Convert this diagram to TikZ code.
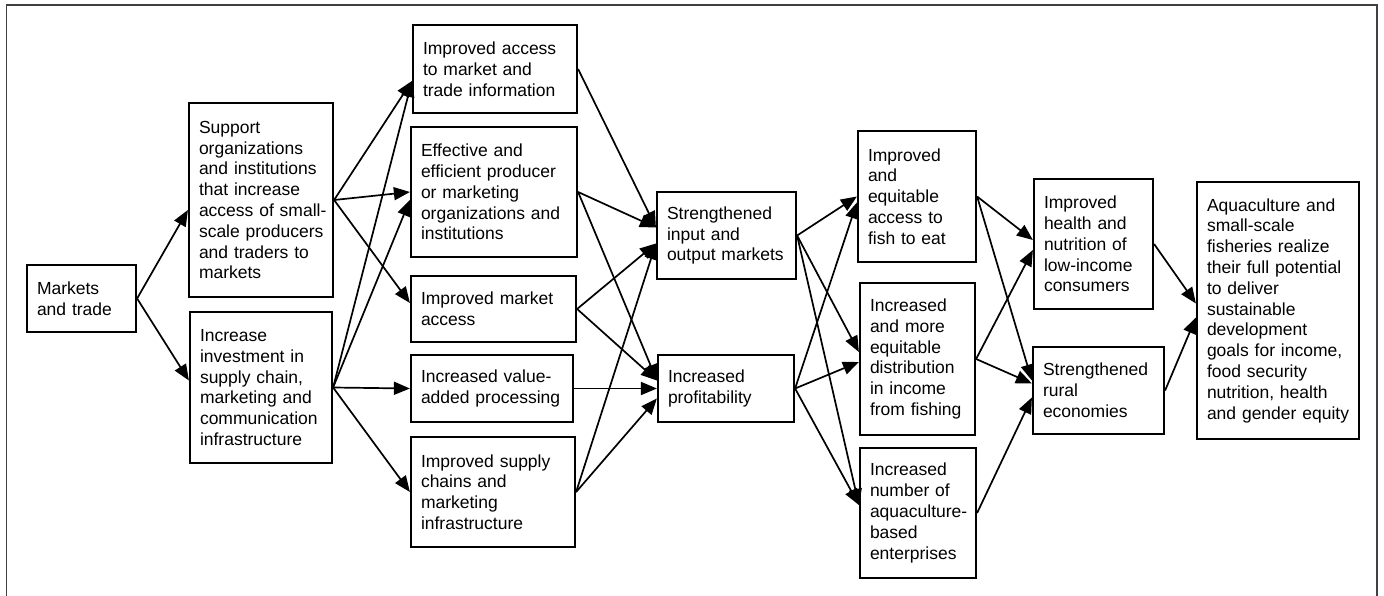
\documentclass[tikz,border=0pt]{standalone}
\usepackage{fontspec}
\setmainfont{Liberation Sans}
\usepackage{tikz}
\usetikzlibrary{arrows.meta}
\hyphenpenalty=10000
\exhyphenpenalty=10000
\tikzstyle{Box}=[draw,line width=2.2pt,align=left,inner xsep=10pt,inner ysep=0pt,
font=\fontsize{17.5}{20.8}\selectfont]
\tikzstyle{Edge}=[draw,line width=1.7pt,-{Triangle[length=16pt,width=13pt]}]
\tikzstyle{Frame}=[draw=black!75,line width=1.4pt]

\begin{document}
\begin{tikzpicture}[x=1pt,y=-1pt]
        \useasboundingbox(0,0)rectangle(1384,596);
        \draw[Frame](6.5,600)--(6.5,5)--(1377,5)--(1377,600);
        % first columns
        \node[Box,text width=89pt,minimum height=67pt](mkt)at(81.5,298.5){Markets\\and trade};
        \node[Box,text width=124pt,minimum height=194pt](sup)at(261,200){Support\\organizations\\and institutions\\that increase\\access~of~small-\\scale~producers\\and traders to\\markets};
        \node[Box,text width=122pt,minimum height=151pt](inv)at(261,387.5){Increase\\investment in\\supply chain,\\marketing and\\communication\\infrastructure};
        \node[Box,text width=144pt,minimum height=88pt](acc)at(495,69){Improved access\\to market and\\trade information};
        \node[Box,text width=146pt,minimum height=130pt](eff)at(494,192){Effective and\\efficient producer\\or marketing\\organizations~and\\institutions};
        \node[Box,text width=145pt,minimum height=66pt](mkta)at(493.5,309){Improved market\\access};
        \node[Box,text width=142pt,minimum height=67pt](val)at(492,388.5){Increased value-\\added~processing};
        \node[Box,text width=144pt,minimum height=110pt](sch)at(493,492){Improved supply\\chains and\\marketing\\infrastructure};
        % middle
        \node[Box,text width=119pt,minimum height=87pt](sio)at(726.5,235.5){Strengthened\\input and\\output markets};
        \node[Box,text width=116pt,minimum height=67pt](prof)at(726,388.5){Increased\\profitability};
        \node[Box,text width=98pt,minimum height=131pt](fish)at(917,196.5){Improved\\and\\equitable\\access to\\fish to eat};
        \node[Box,text width=95pt,minimum height=152pt](dist)at(917.5,359){Increased\\and more\\equitable\\distribution\\in income\\from~fishing};
        \node[Box,text width=96pt,minimum height=130pt](num)at(918,513){Increased\\number of\\aquaculture-\\based\\enterprises};
        % outcomes
        \node[Box,text width=99pt,minimum height=130pt](hlth)at(1093.5,244){Improved\\health and\\nutrition of\\low-income\\consumers};
        \node[Box,text width=111pt,minimum height=87pt](rur)at(1098.5,390.5){Strengthened\\rural\\economies};
        \node[Box,text width=142pt,minimum height=257pt](aq)at(1278,310.5){Aquaculture and\\small-scale\\fisheries realize\\their full potential\\to deliver\\sustainable\\development\\goals for income,\\food security\\nutrition, health\\and~gender~equity};
        \draw[Edge](mkt.east)--([yshift=-10pt]sup.west);
        \draw[Edge](mkt.east)--([yshift=7pt]inv.west);
        \draw[Edge](sup.east)--([yshift=-12pt]acc.west);
        \draw[Edge](sup.east)--(eff.west);
        \draw[Edge](sup.east)--([yshift=6pt]mkta.west);
        \draw[Edge](inv.east)--([yshift=-12pt]acc.west);
        \draw[Edge](inv.east)--([yshift=-8pt]eff.west);
        \draw[Edge](inv.east)--(val.west);
        \draw[Edge](inv.east)--(sch.west);
        \draw[Edge](acc.east)--([yshift=8pt]sio.west);
        \draw[Edge](eff.east)--([yshift=8pt]sio.west);
        \draw[Edge](eff.east)--([yshift=8pt]prof.west);
        \draw[Edge](mkta.east)--([yshift=-8pt]sio.west);
        \draw[Edge](mkta.east)--([yshift=8pt]prof.west);
        \draw[Edge](val.east)--(prof.west);
        \draw[Edge](sch.east)--([yshift=-8pt]sio.west);
        \draw[Edge](sch.east)--([yshift=-10pt]prof.west);
        \draw[Edge](sio.east)--(fish.west);
        \draw[Edge](sio.east)--([yshift=7pt]dist.west);
        \draw[Edge](sio.east)--([yshift=8pt]num.west);
        \draw[Edge](prof.east)--([yshift=-6pt]fish.west);
        \draw[Edge](prof.east)--([yshift=-3pt]dist.west);
        \draw[Edge](prof.east)--([yshift=8pt]num.west);
        \draw[Edge](fish.east)--([yshift=4pt]hlth.west);
        \draw[Edge](fish.east)--([yshift=10pt]rur.west);
        \draw[Edge](dist.east)--([yshift=-6pt]hlth.west);
        \draw[Edge](dist.east)--([yshift=7pt]rur.west);
        \draw[Edge](num.east)--([yshift=-7pt]rur.west);
        \draw[Edge](hlth.east)--([yshift=7pt]aq.west);
        \draw[Edge](rur.east)--([yshift=-7pt]aq.west);
\end{tikzpicture}
\end{document}
